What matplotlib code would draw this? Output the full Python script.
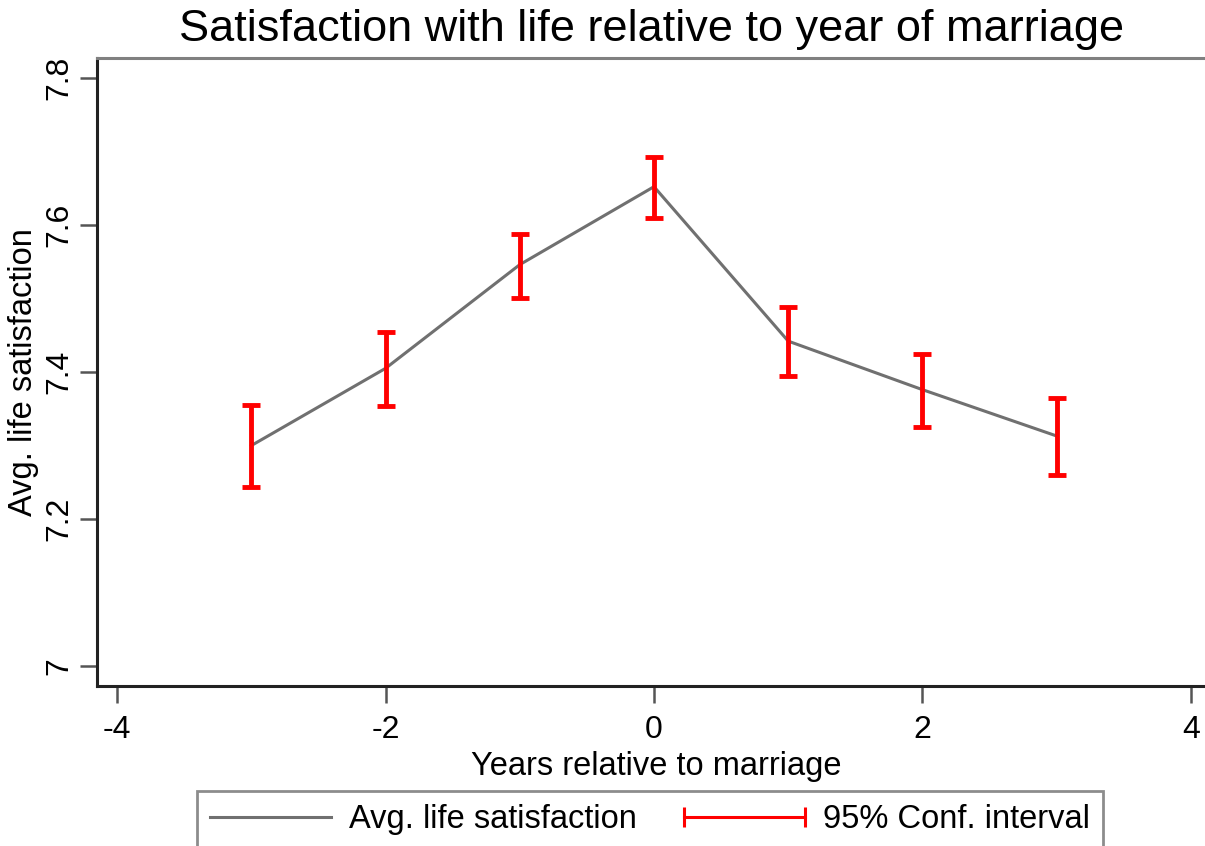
import matplotlib.pyplot as plt
from matplotlib.lines import Line2D
from matplotlib.legend_handler import HandlerLine2D

plt.rcParams['font.family'] = ['Liberation Sans', 'DejaVu Sans']

# years relative to the marriage year
years = [-3, -2, -1, 0, 1, 2, 3]
avg_sat = [7.300, 7.405, 7.546, 7.652, 7.442, 7.376, 7.313]
ci_low = [7.244, 7.354, 7.500, 7.610, 7.395, 7.325, 7.260]
ci_high = [7.355, 7.454, 7.588, 7.693, 7.488, 7.424, 7.365]

xticks = [-4, -2, 0, 2, 4]
yticks = [7.0, 7.2, 7.4, 7.6, 7.8]
ytick_labels = ['7', '7.2', '7.4', '7.6', '7.8']

fig = plt.figure(figsize=(12.05, 8.46), dpi=100)
ax = fig.add_axes([97 / 1205, 1 - 686 / 846, 1118 / 1205, 628 / 846])

line_col = '#707070'
ci_col = '#ff0000'

ax.plot(years, avg_sat, color=line_col, lw=2.2, zorder=2)
err_lo = [m - lo for m, lo in zip(avg_sat, ci_low)]
err_hi = [hi - m for m, hi in zip(avg_sat, ci_high)]
ax.errorbar(years, avg_sat, yerr=[err_lo, err_hi], fmt='none', ecolor=ci_col,
            elinewidth=3.5, capsize=6.8, capthick=3.5, zorder=3)

ax.set_xlim(-4.15, 4.18)
ax.set_ylim(6.973, 7.827)
ax.set_xticks(xticks)
ax.set_xticklabels([str(t) for t in xticks])
ax.set_yticks(yticks)
ax.set_yticklabels(ytick_labels, rotation=90, va='center')

ax.tick_params(axis='both', direction='out', length=12, width=1.8, color='#555555',
               labelsize=23)
ax.tick_params(axis='x', pad=9)
ax.tick_params(axis='y', pad=4)
for side in ['left', 'bottom']:
    ax.spines[side].set_color('#222222')
    ax.spines[side].set_linewidth(2.2)
ax.spines['top'].set_color('#808080')
ax.spines['top'].set_linewidth(2.2)
ax.spines['right'].set_visible(False)

ax.set_xlabel('Years relative to marriage', fontsize=23.5, labelpad=4)
ax.set_ylabel('Avg. life satisfaction', fontsize=23.5, labelpad=4)
fig.text(652 / 1205, 1 - 30 / 846, 'Satisfaction with life relative to year of marriage',
         ha='center', va='center', fontsize=32.5)

# legend: plain line, and a horizontal bar with end caps for the interval
line_handle = Line2D([], [], color=line_col, lw=2.2)
ci_handle = Line2D([], [], color=ci_col, lw=2.2, marker='|', markersize=14, markeredgewidth=2.2)
leg = fig.legend([line_handle, ci_handle], ['Avg. life satisfaction', '95% Conf. interval'],
                 loc='upper left', bbox_to_anchor=(197 / 1205, 1 - 791 / 846),
                 ncol=2, fontsize=23.5, numpoints=2, handlelength=3.7, handletextpad=0.55,
                 columnspacing=1.45, fancybox=False, borderpad=0.4, borderaxespad=0,
                 handler_map={Line2D: HandlerLine2D(marker_pad=0)})
leg.get_frame().set_edgecolor('#707070')
leg.get_frame().set_linewidth(2)

fig.savefig('out.png', dpi=100)
